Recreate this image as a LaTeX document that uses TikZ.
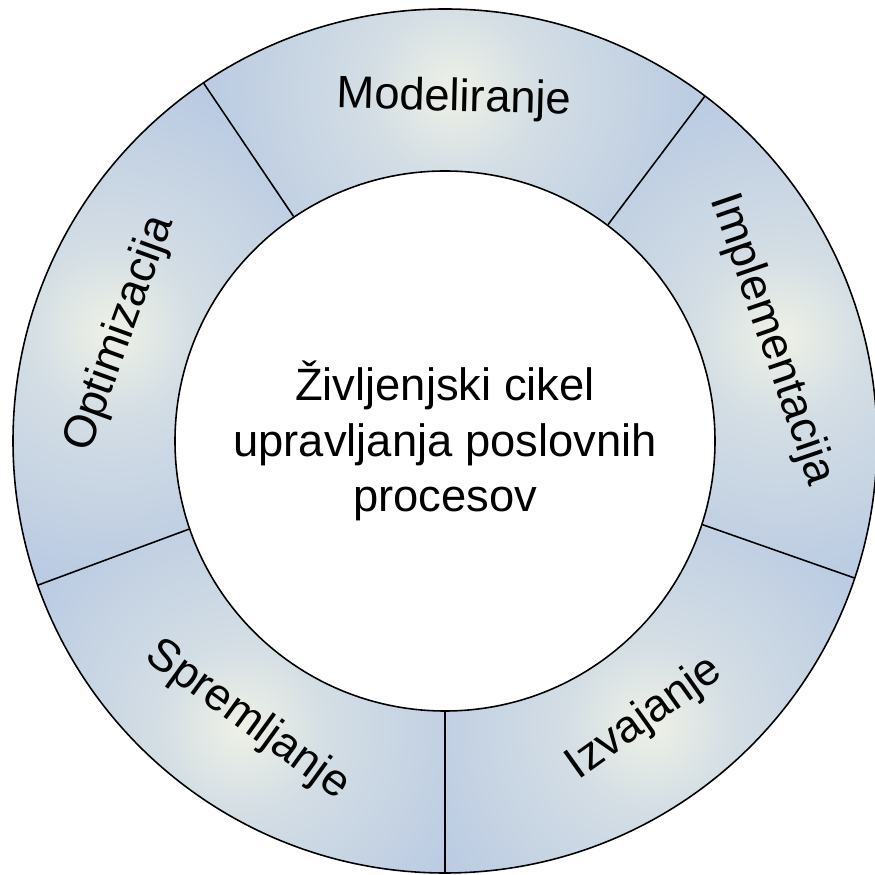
\documentclass[tikz,border=0pt]{standalone}
\usepackage{fontspec}
\setmainfont{Liberation Sans}
\definecolor{ringblue}{HTML}{B2C5E2}
\definecolor{ringlight}{HTML}{EEF1E6}
\colorlet{ringmid}{ringlight!55!ringblue}
\pgfdeclareradialshading{segglow}{\pgfpoint{0bp}{0bp}}{color(0bp)=(ringlight); color(6bp)=(ringmid); color(21bp)=(ringblue); color(50bp)=(ringblue)}

\tikzset{
  ringline/.style={black, line width=0.45pt},
  segshade/.style={shading=segglow},
  seglabel/.style={font=\fontsize{12.9}{15.9}\selectfont, inner sep=0pt},
}

\begin{document}
\begin{tikzpicture}
  \useasboundingbox (0,0) rectangle (8.75,8.75);
  \begin{scope}[shift={(4.45,4.34)}]
  % Modeliranje segment
  \begin{scope}
    \clip (53:2.70) arc[start angle=53, end angle=124, radius=2.70] -- (124:4.32) arc[start angle=124, end angle=53, radius=4.32] -- cycle;
    \shade[segshade] (88.5:3.51) circle (3.6);
  \end{scope}
  % Implementacija segment
  \begin{scope}
    \clip (-18.5:2.70) arc[start angle=-18.5, end angle=53, radius=2.70] -- (53:4.32) arc[start angle=53, end angle=-18.5, radius=4.32] -- cycle;
    \shade[segshade] (17.25:3.51) circle (3.6);
  \end{scope}
  % Izvajanje segment
  \begin{scope}
    \clip (-90:2.70) arc[start angle=-90, end angle=-18.5, radius=2.70] -- (-18.5:4.32) arc[start angle=-18.5, end angle=-90, radius=4.32] -- cycle;
    \shade[segshade] (-54.25:3.51) circle (3.6);
  \end{scope}
  % Spremljanje segment
  \begin{scope}
    \clip (199.5:2.70) arc[start angle=199.5, end angle=270, radius=2.70] -- (270:4.32) arc[start angle=270, end angle=199.5, radius=4.32] -- cycle;
    \shade[segshade] (234.75:3.51) circle (3.6);
  \end{scope}
  % Optimizacija segment
  \begin{scope}
    \clip (124:2.70) arc[start angle=124, end angle=199.5, radius=2.70] -- (199.5:4.32) arc[start angle=199.5, end angle=124, radius=4.32] -- cycle;
    \shade[segshade] (161.75:3.51) circle (3.6);
  \end{scope}

  % Ring outline and centre
  \draw[ringline] (0,0) circle (4.32);
  \node[ringline, draw, circle, fill=white, minimum size=5.4cm, inner sep=0pt, align=center,
        font=\fontsize{12.9}{15.9}\selectfont] (cycle) at (0,0) {Življenjski cikel\\upravljanja poslovnih\\procesov};

  % Dividers
  \draw[ringline] (cycle.53) -- (53:4.32);
  \draw[ringline] (cycle.124) -- (124:4.32);
  \draw[ringline] (cycle.199.5) -- (199.5:4.32);
  \draw[ringline] (cycle.270) -- (270:4.32);
  \draw[ringline] (cycle.-18.5) -- (-18.5:4.32);

  % Labels
  \node[seglabel, rotate=-1.5] (model) at (88.5:3.42) {Modeliranje};
  \node[seglabel, rotate=-71] (impl) at (17.25:3.42) {Implementacija};
  \node[seglabel, rotate=35.5] (izv) at (-54.25:3.42) {Izvajanje};
  \node[seglabel, rotate=-36] (sprem) at (234.75:3.42) {Spremljanje};
  \node[seglabel, rotate=70] (optim) at (161.75:3.42) {Optimizacija};
  \end{scope}
\end{tikzpicture}
\end{document}
